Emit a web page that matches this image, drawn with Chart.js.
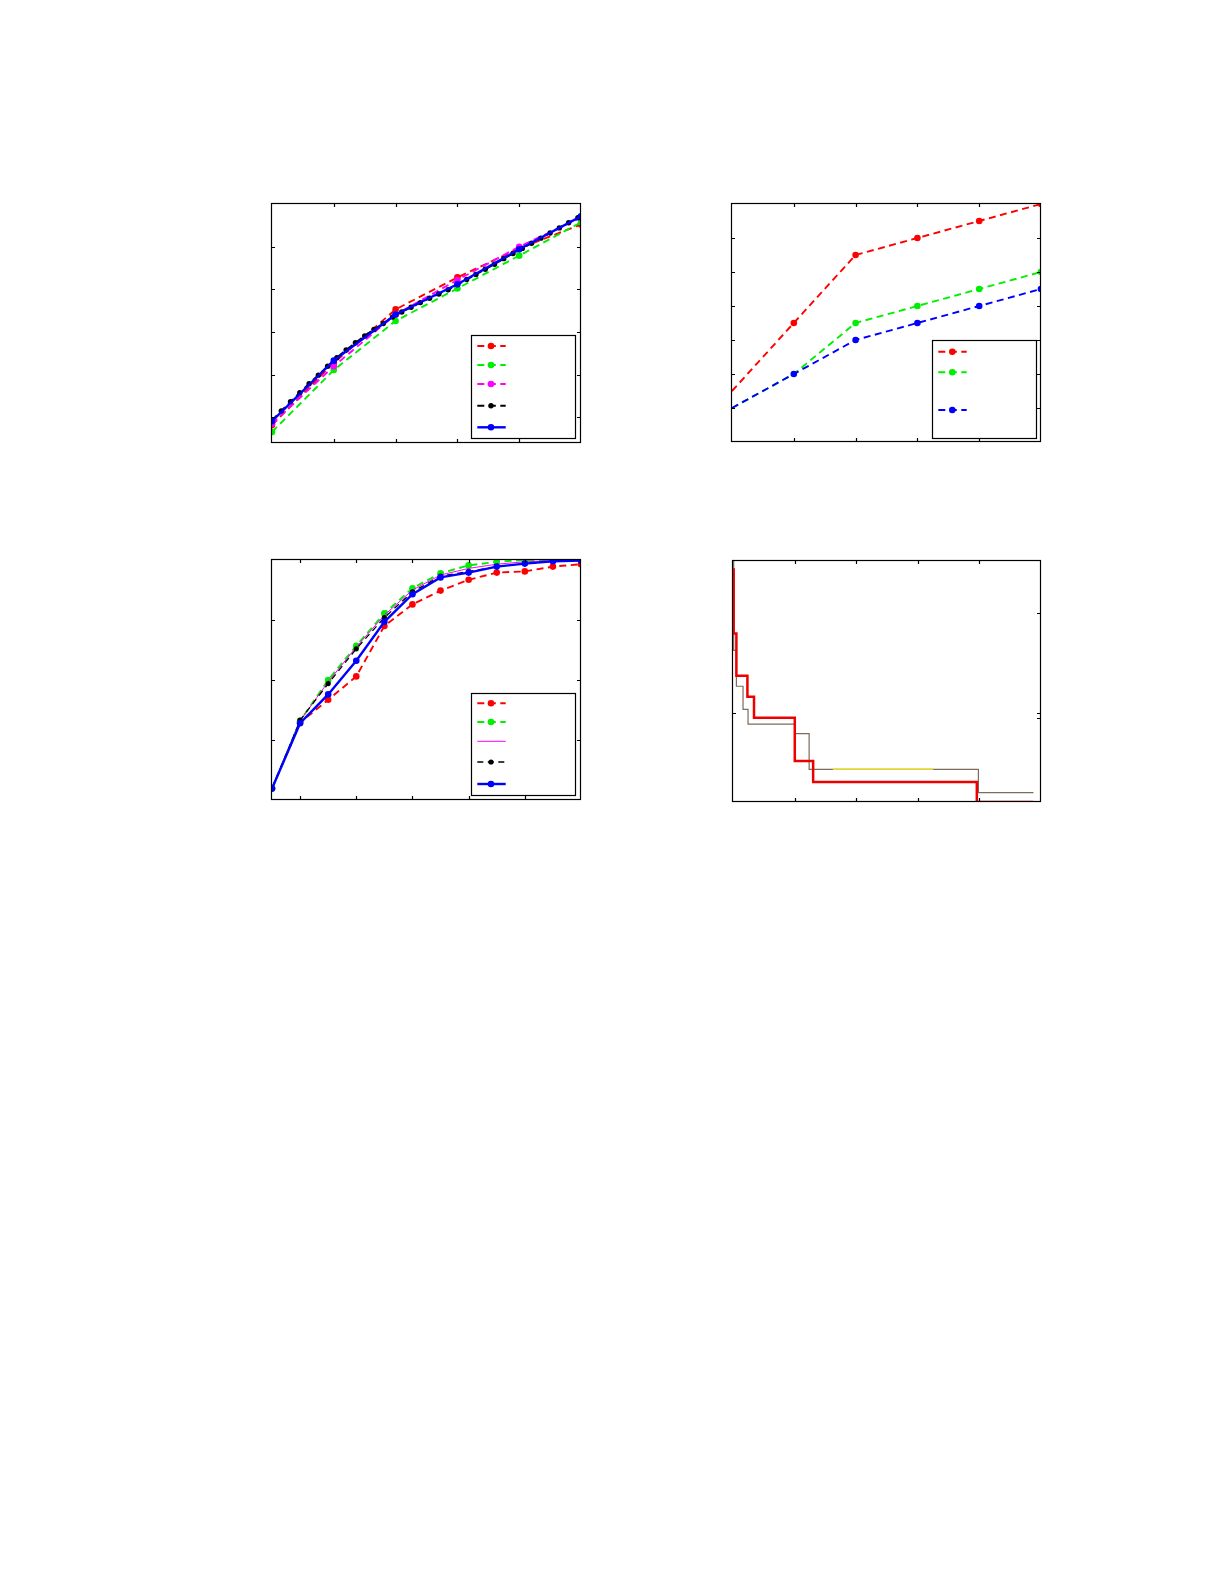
<!DOCTYPE html>
<html>
<head>
<meta charset="utf-8">
<script src="https://cdn.jsdelivr.net/npm/chart.js@4.4.1/dist/chart.umd.min.js"></script>
<style>
  html, body { margin: 0; padding: 0; background: #fff; }
  body { width: 1225px; height: 1585px; position: relative; overflow: hidden; }
  canvas { position: absolute; }
</style>
</head>
<body>
<canvas id="c1" width="329" height="259" style="left:262px;top:194px"></canvas>
<canvas id="c2" width="329" height="258" style="left:722px;top:194px"></canvas>
<canvas id="c3" width="329" height="260" style="left:262px;top:550px"></canvas>
<canvas id="c4" width="328" height="261" style="left:723px;top:551px"></canvas>
<script>
// ---- panel 1 (top left) ----
const p1X = [0, 0.2, 0.4, 0.6, 0.8, 1.0];
const p1Red = [-0.18, 1.28, 2.53, 3.28, 3.96, 4.52];
const p1Green = [-0.34, 1.11, 2.26, 3.02, 3.79, 4.57];
const p1Magenta = [-0.15, 1.20, 2.41, 3.22, 4.00, 4.68];
const p1Blue = [-0.09, 1.33, 2.41, 3.12, 3.94, 4.71];
const p1BlackX = [0, 0.03, 0.06, 0.09, 0.12, 0.15, 0.18, 0.21, 0.24, 0.27, 0.30, 0.33,
  0.36, 0.39, 0.42, 0.45, 0.48, 0.51, 0.54, 0.57, 0.60, 0.63, 0.66, 0.69, 0.72, 0.75,
  0.78, 0.81, 0.84, 0.87, 0.90, 0.93, 0.96, 0.99];
const p1Black = [-0.07, 0.15, 0.37, 0.58, 0.79, 0.99, 1.20, 1.40, 1.58, 1.75, 1.91, 2.06,
  2.20, 2.35, 2.47, 2.58, 2.69, 2.79, 2.89, 2.99, 3.11, 3.23, 3.35, 3.47, 3.59, 3.72,
  3.84, 3.96, 4.08, 4.20, 4.32, 4.44, 4.56, 4.68];
const p1XTicks = [0.2, 0.4, 0.6, 0.8];
const p1YTicks = [0, 1, 2, 3, 4];

// ---- panel 2 (top right) ----
const p2X = [0, 1, 2, 3, 4, 5];
const p2Red = [1.5, 3.5, 5.5, 6, 6.5, 7];
const p2Green = [1, 2, 3.5, 4, 4.5, 5];
const p2Blue = [1, 2, 3, 3.5, 4, 4.5];
const p2XTicks = [1, 2, 3, 4];
const p2YTicks = [1, 2, 3, 4, 5, 6];

// ---- panel 3 (bottom left) ----
const p3X = [1, 2, 3, 4, 5, 6, 7, 8, 9, 10, 11, 12];
const p3Red = [0.19, 1.29, 1.67, 2.06, 2.90, 3.26, 3.49, 3.67, 3.79, 3.81, 3.89, 3.93];
const p3Green = [0.19, 1.32, 2.00, 2.57, 3.11, 3.53, 3.78, 3.91, 3.97, 4.00, 4.00, 4.00];
const p3Magenta = [0.19, 1.32, 1.97, 2.55, 3.08, 3.50, 3.75, 3.86, 3.93, 3.97, 3.99, 4.00];
const p3Black = [0.19, 1.33, 1.94, 2.52, 3.04, 3.47, 3.73, 3.81, 3.89, 3.94, 3.98, 4.00];
const p3Blue = [0.19, 1.28, 1.76, 2.32, 2.97, 3.43, 3.71, 3.79, 3.89, 3.94, 3.98, 3.99];
const p3XTicks = [2, 4, 6, 8, 10];
const p3YTicks = [1, 2, 3];

// ---- panel 4 (bottom right, step curves) ----
const p4RedX = [0.011, 0.011, 0.055, 0.234, 0.341, 1.003, 1.301, 3.958, 4.873];
const p4RedY = [2.42, 1.80, 1.40, 1.20, 1.00, 0.59, 0.39, 0.20, 0.20];
const p4BrownX = [0.011, 0.011, 0.055, 0.163, 0.244, 1.003, 1.236, 3.984, 4.878];
const p4BrownY = [2.50, 1.64, 1.30, 1.08, 0.94, 0.85, 0.51, 0.29, 0.29];
const p4YellowX = [1.62, 3.25];
const p4YellowY = [0.51, 0.51];
const p4XTicks = [1, 2, 3, 4];
const p4RightTicks = [1, 2];
const p4LeftTicks = [0];

const RED = '#ff0000', GREEN = '#00ee00', MAGENTA = '#ff00ff', BLACK = '#000000', BLUE = '#0000ff';

function pts(xs, ys) {
  return xs.map((x, i) => ({ x: x, y: ys[i] }));
}

function series(data, color, opts) {
  return Object.assign({
    data: data,
    borderColor: color,
    backgroundColor: color,
    pointBackgroundColor: color,
    pointBorderColor: color,
    pointBorderWidth: 0,
    borderWidth: 1.9,
    borderDash: [7, 4.5],
    pointRadius: 3.3,
    fill: false,
    tension: 0
  }, opts || {});
}

// box round the plot area and inward tick marks
const framePlugin = {
  id: 'frame',
  afterDatasetsDraw(chart, args, opts) {
    const ctx = chart.ctx, a = chart.chartArea;
    const L = Math.round(a.left) - 0.5, R = Math.round(a.right) - 0.5;
    const T = Math.round(a.top) - 0.5, B = Math.round(a.bottom) - 0.5;
    const len = 3.5;
    ctx.save();
    ctx.strokeStyle = '#000';
    ctx.lineWidth = 1.2;
    ctx.setLineDash([]);
    ctx.strokeRect(L, T, R - L, B - T);
    ctx.beginPath();
    const xs = chart.scales.x;
    (opts.xTicks || []).forEach(v => {
      const px = Math.round(xs.getPixelForValue(v)) + 0.5;
      ctx.moveTo(px, B); ctx.lineTo(px, B - len);
      ctx.moveTo(px, T); ctx.lineTo(px, T + len);
    });
    (opts.yAxes || []).forEach(ax => {
      const sc = chart.scales[ax.id];
      ax.ticks.forEach(v => {
        const py = Math.round(sc.getPixelForValue(v)) + 0.5;
        if (ax.sides.includes('left')) { ctx.moveTo(L, py); ctx.lineTo(L + len, py); }
        if (ax.sides.includes('right')) { ctx.moveTo(R, py); ctx.lineTo(R - len, py); }
      });
    });
    ctx.stroke();
    ctx.restore();
  }
};

// legend box placed inside the axes, samples taken from the datasets
const boxLegendPlugin = {
  id: 'boxLegend',
  afterDraw(chart, args, opts) {
    if (!opts.box) return;
    const ctx = chart.ctx;
    const [x1, y1, x2, y2] = opts.box;
    ctx.save();
    ctx.fillStyle = '#fff';
    ctx.fillRect(x1, y1, x2 - x1, y2 - y1);
    ctx.strokeStyle = '#000';
    ctx.lineWidth = 1.2;
    ctx.strokeRect(x1 + 0.5, y1 + 0.5, x2 - x1, y2 - y1);
    opts.rows.forEach(row => {
      const ds = chart.data.datasets[row.ds];
      ctx.strokeStyle = ds.borderColor;
      ctx.lineWidth = ds.borderWidth;
      ctx.setLineDash(ds.borderDash || []);
      ctx.beginPath();
      ctx.moveTo(opts.line[0], row.y);
      ctx.lineTo(opts.line[1], row.y);
      ctx.stroke();
      const r = Array.isArray(ds.pointRadius) ? ds.pointRadius[ds.pointRadius.length - 1] : ds.pointRadius;
      if (r > 0) {
        ctx.setLineDash([]);
        ctx.fillStyle = ds.pointBackgroundColor;
        ctx.beginPath();
        ctx.arc(opts.marker, row.y, r, 0, Math.PI * 2);
        ctx.fill();
      }
    });
    ctx.restore();
  }
};

function makeChart(id, datasets, scales, frame, legend) {
  datasets.forEach((d, i) => { d.order = datasets.length - 1 - i; });
  return new Chart(document.getElementById(id), {
    type: 'line',
    data: { datasets: datasets },
    options: {
      responsive: false,
      animation: false,
      events: [],
      layout: { padding: 10 },
      plugins: {
        legend: { display: false },
        tooltip: { enabled: false },
        frame: frame,
        boxLegend: legend
      },
      scales: scales
    },
    plugins: [framePlugin, boxLegendPlugin]
  });
}

function axis(min, max, extra) {
  return Object.assign({ type: 'linear', min: min, max: max, display: false }, extra || {});
}

// panel 1
makeChart('c1', [
  series(pts(p1X, p1Red), RED),
  series(pts(p1X, p1Green), GREEN),
  series(pts(p1X, p1Magenta), MAGENTA),
  series(pts(p1BlackX, p1Black), BLACK, { pointRadius: 2.7 }),
  series(pts(p1X, p1Blue), BLUE, { borderDash: [], borderWidth: 2.4 })
], { x: axis(0, 1), y: axis(-0.6, 5) },
{ xTicks: p1XTicks, yAxes: [{ id: 'y', ticks: p1YTicks, sides: ['left', 'right'] }] },
{ box: [209, 141, 313, 244], line: [215.3, 243.7], marker: 229,
  rows: [{ ds: 0, y: 152 }, { ds: 1, y: 171 }, { ds: 2, y: 190 }, { ds: 3, y: 211.7 }, { ds: 4, y: 233.3 }] });

// panel 2
const p2Radius = [0, 3.3, 3.3, 3.3, 3.3, 3.3];
makeChart('c2', [
  series(pts(p2X, p2Red), RED, { pointRadius: p2Radius }),
  series(pts(p2X, p2Green), GREEN, { pointRadius: [0, 0, 3.3, 3.3, 3.3, 3.3] }),
  series(pts(p2X, p2Blue), BLUE, { pointRadius: p2Radius })
], { x: axis(0, 5), y: axis(0, 7) },
{ xTicks: p2XTicks, yAxes: [{ id: 'y', ticks: p2YTicks, sides: ['left', 'right'] }] },
{ box: [210, 146, 314, 244], line: [216.3, 244.7], marker: 230.3,
  rows: [{ ds: 0, y: 157.7 }, { ds: 1, y: 178.3 }, { ds: 2, y: 216 }] });

// panel 3
makeChart('c3', [
  series(pts(p3X, p3Red), RED),
  series(pts(p3X, p3Green), GREEN),
  series(pts(p3X, p3Magenta), MAGENTA, { borderDash: [], borderWidth: 1, pointRadius: 0 }),
  series(pts(p3X, p3Black), BLACK, { borderWidth: 1.3, borderDash: [6, 4.5], pointRadius: 2.6 }),
  series(pts(p3X, p3Blue), BLUE, { borderDash: [], borderWidth: 2.4 })
], { x: axis(1, 12), y: axis(0, 4) },
{ xTicks: p3XTicks, yAxes: [{ id: 'y', ticks: p3YTicks, sides: ['left', 'right'] }] },
{ box: [209, 143, 313, 245], line: [215.3, 243.7], marker: 229,
  rows: [{ ds: 0, y: 153.3 }, { ds: 1, y: 172 }, { ds: 2, y: 191.3 }, { ds: 3, y: 212 }, { ds: 4, y: 234 }] });

// panel 4
makeChart('c4', [
  series(pts(p4BrownX, p4BrownY), '#7c6c5c', { borderDash: [], borderWidth: 1.2, pointRadius: 0, stepped: true }),
  series(pts(p4YellowX, p4YellowY), '#e6dc00', { borderDash: [], borderWidth: 1.2, pointRadius: 0 }),
  series(pts(p4RedX, p4RedY), '#ee0000', { borderDash: [], borderWidth: 2.5, pointRadius: 0, stepped: true })
], {
  x: axis(0, 5),
  y: axis(0.2, 2.49, { position: 'right' }),
  y2: axis(-0.37, 0.63, { position: 'left' })
},
{ xTicks: p4XTicks, yAxes: [
  { id: 'y', ticks: p4RightTicks, sides: ['right'] },
  { id: 'y2', ticks: p4LeftTicks, sides: ['left', 'right'] }
] },
{});
</script>
</body>
</html>
